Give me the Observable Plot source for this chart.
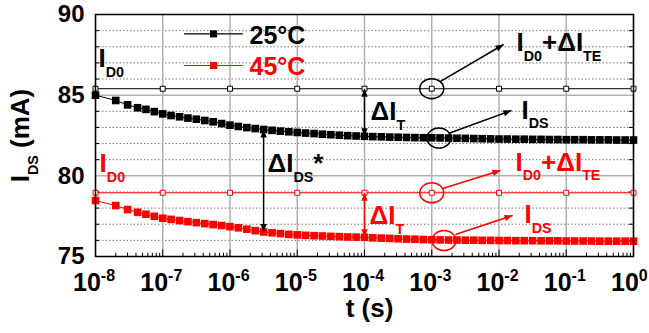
<!DOCTYPE html>
<html><head><meta charset="utf-8">
<script src="https://cdn.jsdelivr.net/npm/d3@7"></script>
<script src="https://cdn.jsdelivr.net/npm/@observablehq/plot@0.6"></script>
<style>html,body{margin:0;padding:0;background:#fff;} #chart{width:649px;height:333px;overflow:hidden}</style>
</head><body><div id="chart"></div>
<script>
// ---- measured data ----
const times = [
  1e-8, 2e-8, 3e-8, 4.22e-8, 5.62e-8, 7.5e-8,
  1e-7, 1.33e-7, 1.78e-7, 2.37e-7, 3.16e-7, 4.22e-7, 5.62e-7, 7.5e-7,
  1e-6, 1.33e-6, 1.78e-6, 2.37e-6, 3.16e-6, 4.22e-6, 5.62e-6, 7.5e-6,
  1e-5, 1.33e-5, 1.78e-5, 2.37e-5, 3.16e-5, 4.22e-5, 5.62e-5, 7.5e-5,
  1e-4, 1.33e-4, 1.78e-4, 2.37e-4, 3.16e-4, 4.22e-4, 5.62e-4, 7.5e-4,
  1e-3, 1.33e-3, 1.78e-3, 2.37e-3, 3.16e-3, 4.22e-3, 5.62e-3, 7.5e-3,
  1e-2, 1.33e-2, 1.78e-2, 2.37e-2, 3.16e-2, 4.22e-2, 5.62e-2, 7.5e-2,
  1e-1, 1.33e-1, 1.78e-1, 2.37e-1, 3.16e-1, 4.22e-1, 5.62e-1, 7.5e-1,
  1
];
const ids25 = [
  85.00, 84.67, 84.40, 84.22, 84.12, 83.98,
  83.84, 83.74, 83.66, 83.58, 83.51, 83.43, 83.35, 83.24,
  83.14, 83.06, 82.99, 82.93, 82.87, 82.82, 82.77, 82.73,
  82.69, 82.65, 82.62, 82.58, 82.55, 82.52, 82.49, 82.47,
  82.45, 82.43, 82.42, 82.40, 82.39, 82.38, 82.37, 82.36,
  82.36, 82.35, 82.34, 82.33, 82.32, 82.31, 82.30, 82.29,
  82.28, 82.28, 82.27, 82.27, 82.26, 82.26, 82.25, 82.25,
  82.24, 82.24, 82.24, 82.23, 82.23, 82.23, 82.22, 82.22,
  82.22
];
const ids45 = [
  78.47, 78.16, 77.91, 77.74, 77.62, 77.49,
  77.37, 77.30, 77.23, 77.16, 77.10, 77.04, 76.98, 76.92,
  76.85, 76.78, 76.69, 76.60, 76.52, 76.47, 76.42, 76.37,
  76.34, 76.31, 76.29, 76.27, 76.25, 76.23, 76.21, 76.20,
  76.19, 76.16, 76.14, 76.12, 76.10, 76.08, 76.07, 76.05,
  76.04, 76.03, 76.02, 76.02, 76.01, 76.01, 76.00, 76.00,
  75.99, 75.99, 75.98, 75.98, 75.98, 75.97, 75.97, 75.97,
  75.96, 75.96, 75.96, 75.96, 75.95, 75.95, 75.95, 75.95,
  75.95
];
const refTimes = [1e-8, 1e-7, 1e-6, 1e-5, 1e-4, 1e-3, 1e-2, 1e-1, 1];
const ref25 = [85.4, 85.4, 85.4, 85.4, 85.4, 85.4, 85.4, 85.4, 85.4];
const ref45 = [78.95, 78.95, 78.95, 78.95, 78.95, 78.95, 78.95, 78.95, 78.95];

// ---- axes ----
const xTickLabels = ["10^{-8}","10^{-7}","10^{-6}","10^{-5}","10^{-4}","10^{-3}","10^{-2}","10^{-1}","10^{0}"];
const yTicks = [75, 80, 85, 90];
const yMajorGrid = [80, 85];
const yMinor = [76, 77, 78, 79, 81, 82, 83, 84, 86, 87, 88, 89];
const xMinor = [];
for (let k = -8; k < 0; k++) for (let m = 2; m <= 9; m++) xMinor.push(m * Math.pow(10, k));

// ---- legend ----
const legendLabels = ["25°C", "45°C"];
const legendColors = ["black", "#ff0000"];
const legendLineY = [88.80, 86.84];
const legendTextY = [88.20, 86.28];
const legendLineT = [2.1e-7, 1.53e-6];
const legendMarkT = 5.69e-7;
const legendTextT = 1.95e-6;

// ---- annotations ----
const noteText = ["I_{D0}", "I_{D0}+ΔI_{TE}", "I_{DS}", "ΔI_{T}", "ΔI_{DS}*", "I_{D0}", "I_{D0}+ΔI_{TE}", "I_{DS}", "ΔI_{T}"];
const noteT = [1.11e-8, 1.82e-2, 2.16e-2, 1.23e-4, 3.61e-6, 1.15e-8, 1.76e-2, 2.39e-2, 1.19e-4];
const noteY = [86.72, 87.71, 83.55, 83.43, 80.23, 80.21, 80.33, 77.05, 77.03];
const noteColor = ["black","black","black","black","black","#ff0000","#ff0000","#ff0000","#ff0000"];

const ringT = [1e-3, 1.28e-3, 1e-3, 1.52e-3];
const ringY = [85.4, 82.34, 78.95, 75.99];
const ringColor = ["black", "black", "#ff0000", "#ff0000"];

const ptrT1 = [1.35e-3, 1.77e-3, 1.45e-3, 2.25e-3];
const ptrY1 = [85.85, 82.62, 79.21, 76.36];
const ptrT2 = [1.17e-2, 1.53e-2, 1.05e-2, 1.59e-2];
const ptrY2 = [88.14, 84.05, 80.33, 77.54];
const ptrColor = ["black", "black", "#ff0000", "#ff0000"];

const dsT = 3.16e-6;   // ΔI_DS* arrow position
const dtT = 1e-4;      // ΔI_T arrow position

// ---- build ----
const RED = "#ff0000";
const s25 = times.map((t, i) => ({t, v: ids25[i]}));
const s45 = times.map((t, i) => ({t, v: ids45[i]}));
const r25 = refTimes.map((t, i) => ({t, v: ref25[i]}));
const r45 = refTimes.map((t, i) => ({t, v: ref45[i]}));

const iDS = times.indexOf(dsT), iDT = times.indexOf(dtT), iR = refTimes.indexOf(dtT);
const dbl = [
  {t: dsT, y1: ids25[iDS], y2: ids45[iDS], c: "black"},
  {t: dtT, y1: ref25[iR], y2: ids25[iDT], c: "black"},
  {t: dtT, y1: ref45[iR], y2: ids45[iDT], c: RED}
];
const dblHeads = dbl.flatMap(d => [{t: d.t, y: d.y1, a: 0, c: d.c}, {t: d.t, y: d.y2, a: 180, c: d.c}]);

const X = d3.scaleLog().domain([1e-8, 1]).range([95, 633]);
const Y = d3.scaleLinear().domain([75, 90]).range([256, 14]);
const ptrs = ptrT1.map((t, i) => ({t1: t, y1: ptrY1[i], t2: ptrT2[i], y2: ptrY2[i], c: ptrColor[i],
  a: Math.atan2(X(ptrT2[i]) - X(t), -(Y(ptrY2[i]) - Y(ptrY1[i]))) * 180 / Math.PI}));

const rings = ringT.map((t, i) => ({t, y: ringY[i], c: ringColor[i]}));
const notes = noteText.map((s, i) => ({s, t: noteT[i], y: noteY[i], c: noteColor[i]}));
const legLines = legendLabels.flatMap((l, i) => legendLineT.map(t => ({t, y: legendLineY[i], c: legendColors[i], k: l})));
const legMarks = legendLabels.map((l, i) => ({t: legendMarkT, y: legendLineY[i], c: legendColors[i]}));
const legTexts = legendLabels.map((l, i) => ({s: l, t: legendTextT, y: legendTextY[i], c: legendColors[i]}));

function ellipse(rx, ry) {
  const k = 0.5523;
  return {draw(c) {
    c.moveTo(rx, 0);
    c.bezierCurveTo(rx, ry * k, rx * k, ry, 0, ry);
    c.bezierCurveTo(-rx * k, ry, -rx, ry * k, -rx, 0);
    c.bezierCurveTo(-rx, -ry * k, -rx * k, -ry, 0, -ry);
    c.bezierCurveTo(rx * k, -ry, rx, -ry * k, rx, 0);
    c.closePath();
  }};
}
const head = {draw(c) { c.moveTo(0, 0); c.lineTo(3.2, 8); c.lineTo(-3.2, 8); c.closePath(); }};

const FONT = "Liberation Sans, Arial, sans-serif";

const chart = Plot.plot({
  width: 649, height: 333,
  marginLeft: 95, marginRight: 16, marginTop: 14, marginBottom: 77,
  style: {fontFamily: FONT, background: "white", overflow: "hidden"},
  x: {type: "log", domain: [1e-8, 1], axis: null},
  y: {domain: [75, 90], axis: null},
  marks: [
    // grid
    Plot.ruleY(yMinor, {stroke: "#777", strokeWidth: 1, strokeDasharray: "1.5,2"}),
    Plot.ruleY(yMajorGrid, {stroke: "#b0b0b0", strokeWidth: 1.5}),
    Plot.ruleX(refTimes, {stroke: "#b0b0b0", strokeWidth: 1.5}),
    // ticks
    Plot.ruleX(xMinor, {y1: 75, y2: 75.2, stroke: "black"}),
    Plot.ruleX(refTimes, {y1: 75, y2: 75.4, stroke: "black"}),
    Plot.ruleY(yMinor, {x1: 1e-8, x2: 1.15e-8, stroke: "black"}),
    Plot.ruleY(yMinor, {x1: 0.87, x2: 1, stroke: "black"}),
    // reference lines (open squares)
    Plot.line(r25, {x: "t", y: "v", stroke: "black", strokeWidth: 1}),
    Plot.dot(r25, {x: "t", y: "v", symbol: "square", r: 2.8, fill: "white", stroke: "black", strokeWidth: 1}),
    Plot.line(r45, {x: "t", y: "v", stroke: RED, strokeWidth: 1}),
    Plot.dot(r45, {x: "t", y: "v", symbol: "square", r: 2.8, fill: "white", stroke: RED, strokeWidth: 1}),
    // measured series
    Plot.line(s25, {x: "t", y: "v", stroke: "black", strokeWidth: 1}),
    Plot.dot(s25, {x: "t", y: "v", symbol: "square", r: 4.3, fill: "black"}),
    Plot.line(s45, {x: "t", y: "v", stroke: RED, strokeWidth: 1}),
    Plot.dot(s45, {x: "t", y: "v", symbol: "square", r: 4.3, fill: RED}),
    // legend
    Plot.line(legLines, {x: "t", y: "y", z: "k", stroke: "c", strokeWidth: 1.2}),
    Plot.dot(legMarks, {x: "t", y: "y", symbol: "square", r: 4, fill: "c"}),
    Plot.text(legTexts, {x: "t", y: "y", text: "s", fill: "c", fontSize: 25, fontWeight: "bold", textAnchor: "start", lineAnchor: "bottom"}),
    // double arrows
    Plot.link(dbl, {x1: "t", x2: "t", y1: "y1", y2: "y2", stroke: "c", strokeWidth: 1.5}),
    Plot.dot(dblHeads, {x: "t", y: "y", symbol: head, rotate: "a", fill: "c", r: 4}),
    // rings and pointers
    Plot.dot(rings, {x: "t", y: "y", symbol: ellipse(12, 10), fill: "none", stroke: "c", strokeWidth: 1.5, r: 10}),
    Plot.link(ptrs, {x1: "t1", y1: "y1", x2: "t2", y2: "y2", stroke: "c", strokeWidth: 1.5}),
    Plot.dot(ptrs, {x: "t2", y: "y2", symbol: head, rotate: "a", fill: "c", r: 4}),
    // annotation labels
    Plot.text(notes, {x: "t", y: "y", text: "s", fill: "c", fontSize: 26, fontWeight: "bold", textAnchor: "start", lineAnchor: "bottom"}),
    // frame
    Plot.frame({stroke: "black", strokeWidth: 1.5}),
    // axis tick labels
    Plot.text(yTicks, {x: 1e-8, y: d => d, text: d => String(d), dx: -11, fontSize: 24, fontWeight: "bold", textAnchor: "end", lineAnchor: "middle", fill: "black"}),
    Plot.text(refTimes, {x: d => d, y: 75, text: (d, i) => xTickLabels[i], dx: -22.5, dy: 34, fontSize: 25, fontWeight: "bold", textAnchor: "start", lineAnchor: "bottom", fill: "black"}),
    // axis titles
    Plot.text(["t (s)"], {frameAnchor: "bottom", text: d => d, dx: 5, dy: 60.5, fontSize: 26, fontWeight: "bold", lineAnchor: "bottom", fill: "black"}),
    Plot.text(["I_{DS} (mA)"], {frameAnchor: "left", text: d => d, dx: -67, rotate: -90, fontSize: 26, fontWeight: "bold", lineAnchor: "bottom", textAnchor: "middle", fill: "black"})
  ]
});
document.getElementById("chart").append(chart);

function richify(svg) {
  svg.querySelectorAll("text").forEach(el => {
    const s = el.textContent;
    if (!/[_^]\{/.test(s)) return;
    const F = parseFloat(getComputedStyle(el).fontSize);
    el.textContent = "";
    let cur = 0;
    const re = /([_^])\{([^}]*)\}|([^_^]+)/g;
    let m;
    while ((m = re.exec(s))) {
      const ts = document.createElementNS("http://www.w3.org/2000/svg", "tspan");
      let shift, size;
      if (m[1] === "_") { shift = 0.38 * F; size = 0.55 * F; ts.textContent = m[2]; }
      else if (m[1] === "^") { shift = -0.4 * F; size = 0.64 * F; ts.textContent = m[2]; }
      else { shift = 0; size = F; ts.textContent = m[3]; }
      ts.setAttribute("dy", (shift - cur).toFixed(2));
      ts.setAttribute("font-size", size.toFixed(2));
      cur = shift;
      el.appendChild(ts);
    }
  });
}
richify(chart);
</script>
</body></html>
